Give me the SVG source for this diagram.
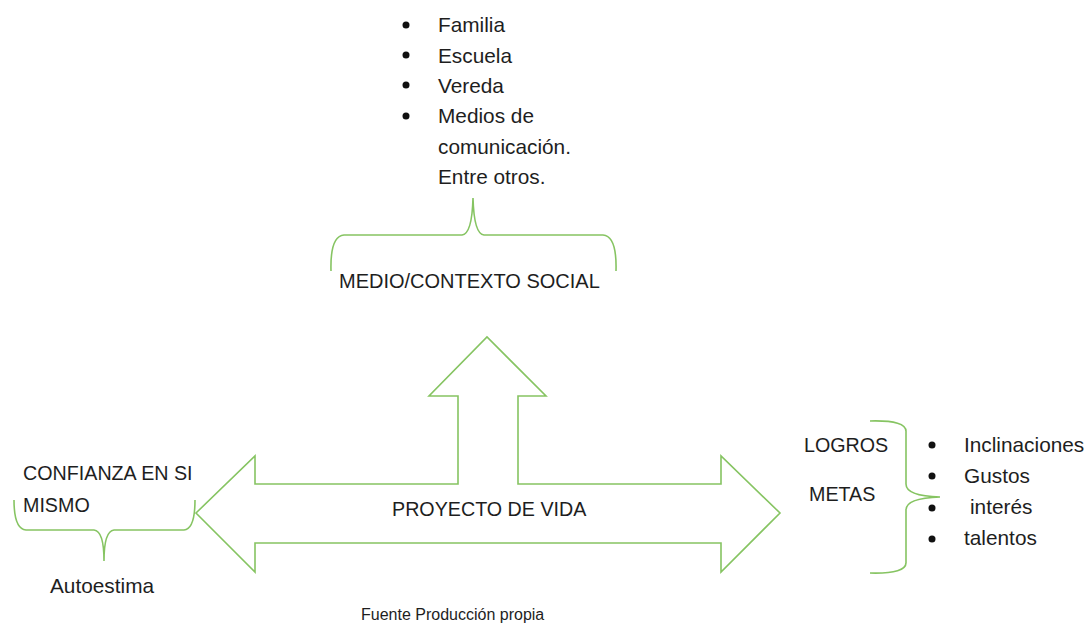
<svg xmlns="http://www.w3.org/2000/svg" width="1092" height="624" viewBox="0 0 1092 624">
<style>
  .t { font-family: "Liberation Sans", Arial, sans-serif; font-size: 19.7px; fill: #1e1e1e; }
  .l { font-family: "Liberation Sans", Arial, sans-serif; font-size: 20.8px; fill: #1e1e1e; }
  .s { font-family: "Liberation Sans", Arial, sans-serif; font-size: 16px; fill: #1e1e1e; }
  .g { fill: none; stroke: #86c462; stroke-width: 1.6; stroke-linejoin: miter; }
  .b { fill: #111; }
</style>
<rect width="1092" height="624" fill="#ffffff"/>

<g id="proyecto-de-vida">
  <path class="g" d="M196,513 L255,456 L255,484 L458,484 L458,396 L429,396 L487,337 L546,396 L518,396 L518,484 L721,484 L721,456 L780,513 L721,572 L721,543 L255,543 L255,572 Z"/>
  <text class="t" x="392" y="516">PROYECTO DE VIDA</text>
</g>

<g id="medio-contexto-social">
  <circle class="b" cx="406" cy="25" r="3.5"/>
  <circle class="b" cx="406" cy="55" r="3.5"/>
  <circle class="b" cx="406" cy="85" r="3.5"/>
  <circle class="b" cx="406" cy="116" r="3.5"/>
  <text class="l" x="438" y="32">Familia</text>
  <text class="l" x="438" y="62.5">Escuela</text>
  <text class="l" x="438" y="93">Vereda</text>
  <text class="l" x="438" y="123">Medios de</text>
  <text class="l" x="438" y="153.5">comunicación.</text>
  <text class="l" x="438" y="184">Entre otros.</text>
  <text class="t" x="339" y="288" style="font-size:20px">MEDIO/CONTEXTO SOCIAL</text>
</g>

<g id="confianza">
  <text class="t" x="23" y="480">CONFIANZA EN SI</text>
  <text class="t" x="23" y="512">MISMO</text>
  <text class="l" x="50" y="593">Autoestima</text>
</g>

<g id="logros-metas">
  <text class="t" x="804" y="452">LOGROS</text>
  <text class="t" x="809" y="501">METAS</text>
  <circle class="b" cx="932" cy="445" r="3.5"/>
  <circle class="b" cx="932" cy="476" r="3.5"/>
  <circle class="b" cx="932" cy="508" r="3.5"/>
  <circle class="b" cx="932" cy="539" r="3.5"/>
  <text class="l" x="964" y="452">Inclinaciones</text>
  <text class="l" x="964" y="483">Gustos</text>
  <text class="l" x="970" y="514">interés</text>
  <text class="l" x="964" y="545">talentos</text>
</g>

<g id="fuente">
  <text class="s" x="361" y="620">Fuente Producción propia</text>
</g>

<g id="connectors">
  <path class="g" d="M331,271 Q330,236 344,235 L462,235 Q472,234 473,198 Q474,234 484,235 L603,235 Q617,236 616,271"/>
  <path class="g" d="M14,500 Q14,529 26,530 L94,530 Q104,531 104,561 Q104,531 114,530 L184,530 Q195,529 195,500"/>
  <path class="g" d="M870,421 Q907,420 906,432 L906,484 Q906,496 940,497 Q906,498 906,510 L906,562 Q907,574 870,573"/>
</g>
</svg>
